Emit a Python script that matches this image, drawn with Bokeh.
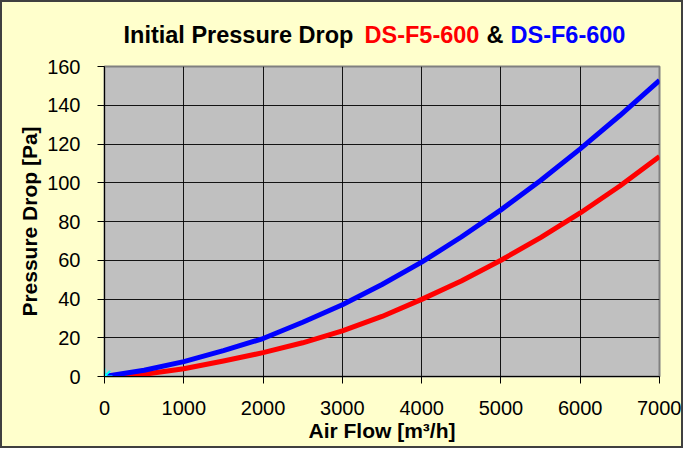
from bokeh.plotting import figure
from bokeh.models import Range1d, FixedTicker, ColumnDataSource
from bokeh.layouts import column
from bokeh.core.properties import value
from bokeh.embed import file_html
from bokeh.resources import INLINE

# ---- data ----
air_flow = [0, 500, 1000, 1500, 2000, 2500, 3000, 3500, 4000, 4500, 5000, 5500, 6000, 6500, 7000]
dp_f5 = [0, 1.2, 4.0, 8.0, 12.3, 17.4, 23.5, 31.0, 39.8, 49.3, 60.0, 71.7, 84.4, 98.3, 113.5]
dp_f6 = [0, 3.2, 7.7, 13.4, 19.6, 28.0, 37.0, 47.5, 59.0, 72.0, 86.0, 101.2, 117.5, 134.7, 152.8]
origin_x = [0]
origin_y = [0]
x_ticks = [0, 1000, 2000, 3000, 4000, 5000, 6000, 7000]
y_ticks = [0, 20, 40, 60, 80, 100, 120, 140, 160]

title_parts = ["Initial Pressure Drop ", "DS-F5-600", "&", "DS-F6-600"]
title_colors = ["#000000", "#FF0000", "#000000", "#0000FF"]

FONT = "Liberation Sans"
BG = "#FFFFCC"
W = 679
BL, BR = 102, 22          # left / right borders shared by both strips

# ---- title strip (no axes; its frame is aligned with the chart frame) ----
TH = 52
tf = figure(width=W, height=TH, output_backend="svg", toolbar_location=None,
            x_axis_location=None, y_axis_location=None,
            x_range=Range1d(BL, W - BR), y_range=Range1d(0, TH),
            min_border_left=BL, min_border_right=BR,
            min_border_top=0, min_border_bottom=0)
tf.grid.visible = False
tf.outline_line_color = None
tf.background_fill_color = BG
tf.border_fill_color = BG
title_x = [121, 362, 484, 508]
title_y = [TH - 32] * 4
tsrc = ColumnDataSource(dict(x=title_x, y=title_y, t=title_parts, c=title_colors))
tf.text("x", "y", text="t", text_color="c", source=tsrc, text_font=value(FONT),
        text_font_size="23.5px", text_font_style="bold",
        text_baseline="alphabetic", text_align="left")

# ---- main chart ----
p = figure(width=W, height=444 - TH, output_backend="svg", toolbar_location=None,
           x_range=Range1d(0, 7000), y_range=Range1d(0, 160),
           min_border_left=BL, min_border_right=BR, min_border_top=12, min_border_bottom=70)
p.border_fill_color = BG
p.background_fill_color = "#C0C0C0"
p.outline_line_color = "#808080"
p.outline_line_width = 2

p.xaxis.ticker = FixedTicker(ticks=x_ticks)
p.yaxis.ticker = FixedTicker(ticks=y_ticks)
for ax in (p.xaxis[0], p.yaxis[0]):
    ax.axis_line_color = "#000000"
    ax.axis_line_width = 1
    ax.major_tick_line_color = "#000000"
    ax.major_tick_out = 7
    ax.major_tick_in = 0
    ax.minor_tick_line_color = None
    ax.major_label_text_font = FONT
    ax.major_label_text_font_size = "20px"
    ax.major_label_text_color = "#000000"
    ax.axis_label_text_font = FONT
    ax.axis_label_text_font_size = "21px"
    ax.axis_label_text_font_style = "bold"
    ax.axis_label_text_color = "#000000"
xa = p.xaxis[0]
ya = p.yaxis[0]
xa.axis_label = "Air Flow [m³/h]"
ya.axis_label = "Pressure Drop [Pa]"
xa.major_label_standoff = 17
ya.major_label_standoff = 17
xa.axis_label_standoff = 1
ya.axis_label_standoff = 3

p.grid.grid_line_color = "#000000"
p.grid.grid_line_width = 1
p.grid.grid_line_alpha = 0.9
p.xgrid.ticker = FixedTicker(ticks=x_ticks)
p.ygrid.ticker = FixedTicker(ticks=y_ticks)

src = ColumnDataSource(dict(x=air_flow, f5=dp_f5, f6=dp_f6))
p.line("x", "f5", source=src, line_color="#FF0000", line_width=5, line_join="round")
p.line("x", "f6", source=src, line_color="#0000FF", line_width=5, line_join="round")
p.scatter(origin_x, origin_y, marker="asterisk", size=16, line_color="#00FFFF", line_width=2)

layout = column(tf, p, spacing=0, styles={"border": "2px solid #404040", "background-color": BG})

open("out.html", "w").write(file_html(layout, INLINE))
